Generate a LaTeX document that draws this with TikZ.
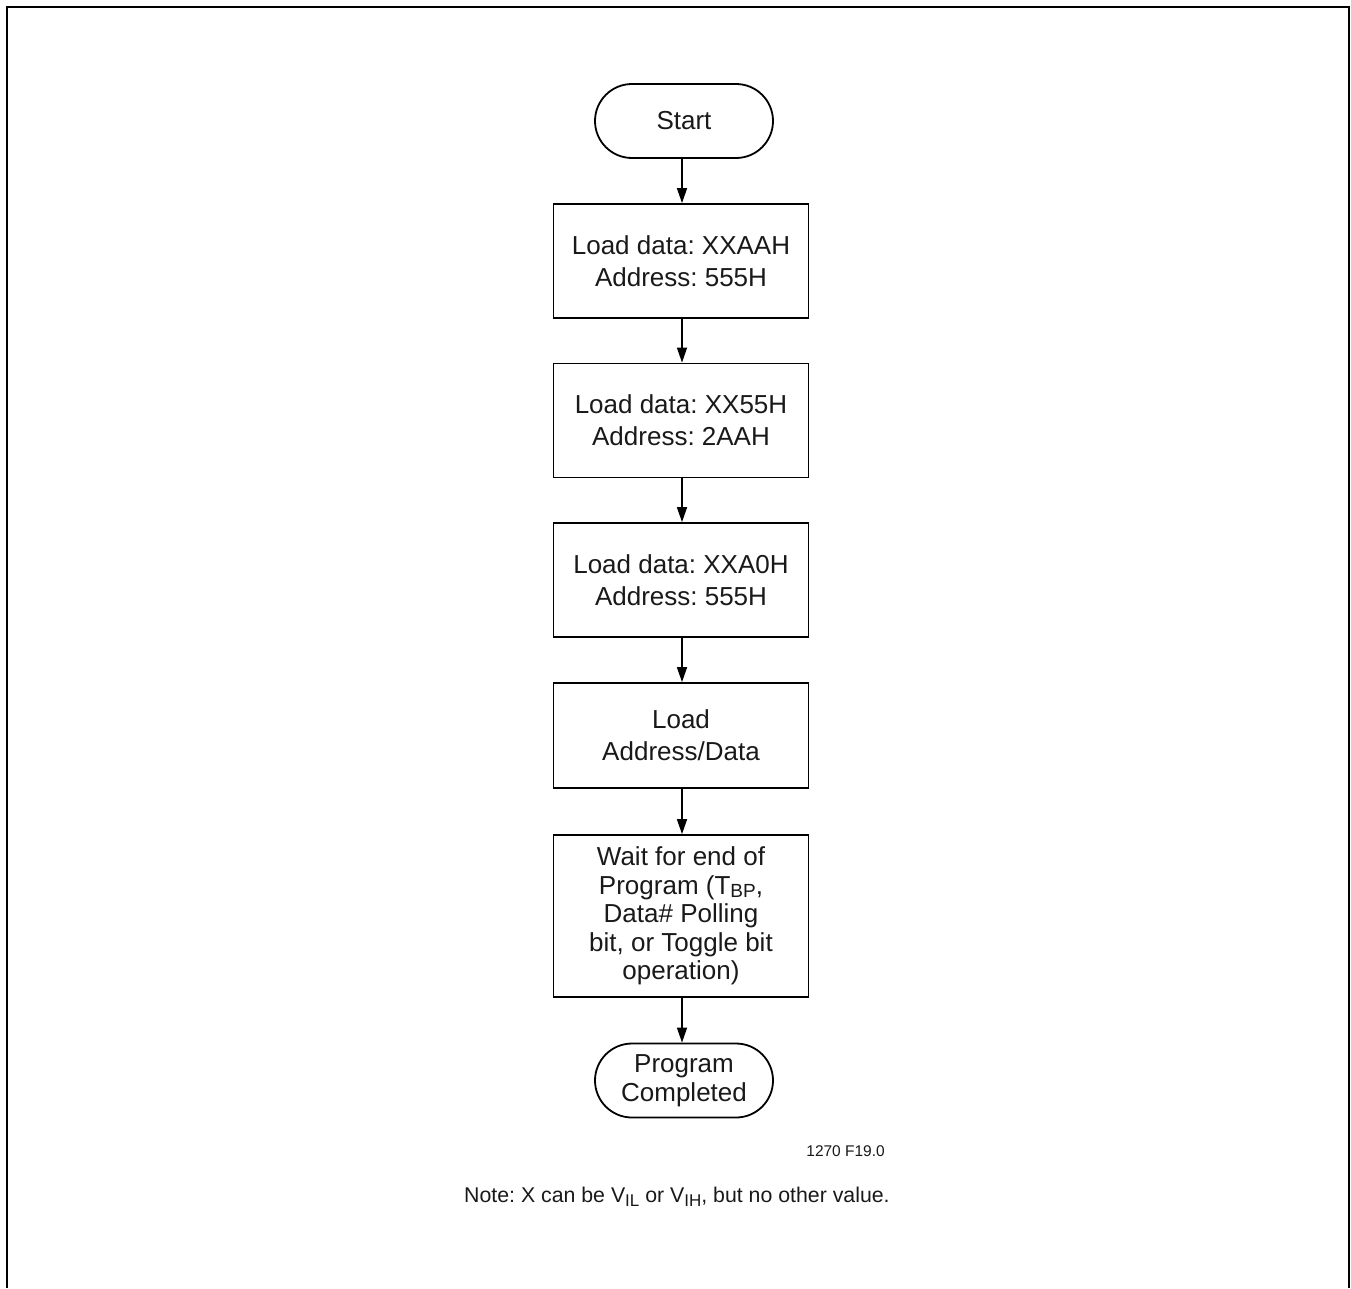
\documentclass[tikz,border=0pt]{standalone}
\usepackage{fontspec}
\setmainfont{Liberation Sans}
\usetikzlibrary{arrows.meta}
\frenchspacing
\begin{document}
\begin{tikzpicture}[x=1pt,y=-1pt,
  every node/.style={inner sep=0pt, text=black!90},
  stepbox/.style={draw, line width=1.8pt, minimum width=255pt, align=center,
     font=\fontsize{26}{32}\selectfont},
  termbox/.style={draw, line width=1.8pt, minimum width=178pt, minimum height=74pt,
     rounded corners=37pt, align=center, font=\fontsize{26}{29}\selectfont},
  flow/.style={line width=1.6pt, -{Triangle[length=15pt,width=10pt]}}]
\useasboundingbox (0,0) rectangle (1351,1288);
\draw[line width=2.8pt] (7,1288) -- (7,7) -- (1349,7) -- (1349,1288);
\node[termbox] (start) at (684,121) {Start};
\node[stepbox, minimum height=114pt] (b1) at (681,261) {Load data: XXAAH\\Address: 555H};
\node[stepbox, minimum height=114pt] (b2) at (681,420.5) {Load data: XX55H\\Address: 2AAH};
\node[stepbox, minimum height=114pt] (b3) at (681,580) {Load data: XXA0H\\Address: 555H};
\node[stepbox, minimum height=105pt] (b4) at (681,735.5) {Load\\Address/Data};
\node[stepbox, minimum height=162pt, font=\fontsize{26}{28.6}\selectfont] (b5) at (681,916)
  {Wait for end of\\Program (T\raisebox{-3pt}{\fontsize{19}{19}\selectfont BP},\\Data\# Polling\\bit, or Toggle bit\\operation)};
\node[termbox] (end) at (684,1080.5) {Program\\Completed};
\draw[flow] (start.south -| 682,0) -- (b1.north -| 682,0);
\draw[flow] (b1.south -| 682,0) -- (b2.north -| 682,0);
\draw[flow] (b2.south -| 682,0) -- (b3.north -| 682,0);
\draw[flow] (b3.south -| 682,0) -- (b4.north -| 682,0);
\draw[flow] (b4.south -| 682,0) -- (b5.north -| 682,0);
\draw[flow] (b5.south -| 682,0) -- (end.north -| 682,0);
\node[anchor=base east, font=\fontsize{15.5}{18}\selectfont] (fig) at (885,1156) {1270 F19.0};
\node[anchor=base west, font=\fontsize{21.3}{26}\selectfont] (note) at (464,1202)
  {Note: X can be V\raisebox{-4pt}{\fontsize{17}{17}\selectfont IL} or V\raisebox{-4pt}{\fontsize{17}{17}\selectfont IH}, but no other value.};
\end{tikzpicture}
\end{document}
